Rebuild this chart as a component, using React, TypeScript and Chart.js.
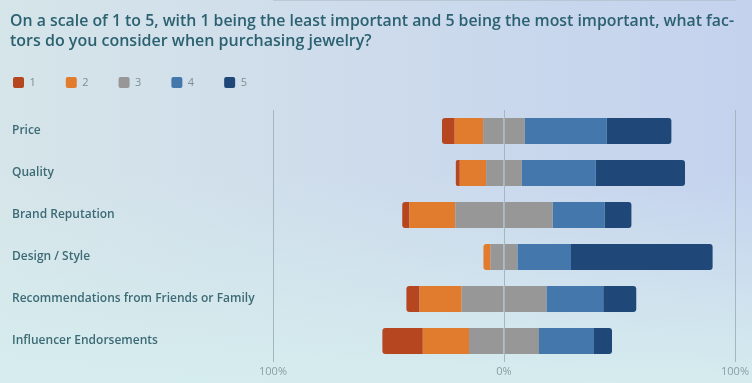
import React, { useEffect, useRef } from 'react';
import { Chart, registerables } from 'chart.js';

Chart.register(...registerables);

// ---- data ----
const titleLines = [
  'On a scale of 1 to 5, with 1 being the least important and 5 being the most important, what fac-',
  'tors do you consider when purchasing jewelry?',
];
const categories = [
  'Price',
  'Quality',
  'Brand Reputation',
  'Design / Style',
  'Recommendations from Friends or Family',
  'Influencer Endorsements',
];
const ratingLabels = ['1', '2', '3', '4', '5'];
// share of respondents (%) per rating
const rating1 = [5.5, 1.7, 3.0, 0, 5.7, 17.5];
const rating2 = [12.3, 11.4, 20.0, 3.1, 18.2, 20.0];
const rating3 = [18.1, 15.5, 42.1, 11.6, 36.7, 30.3];
const rating4 = [35.3, 32.0, 22.6, 23.2, 24.6, 23.8];
const rating5 = [28.1, 38.6, 11.5, 61.3, 14.3, 7.8];
const axisTicks = [-100, 0, 100];

// ---- styles ----
const colors = ['#b5461f', '#e17c2f', '#979797', '#4477ab', '#1f4878'];
const FONT = "'Open Sans', 'Noto Sans', sans-serif";
const LEGEND_DX = -29;
const LEGEND_DY = -12;
const TITLE_DX = -2;

export default function App() {
  const ref = useRef<HTMLCanvasElement>(null);

  useEffect(() => {
    document.body.style.margin = '0';
    const canvas = ref.current;
    if (!canvas) return;

    const neg = (arr: number[]) => arr.map((v) => -v);
    const half = (arr: number[]) => arr.map((v) => v / 2);

    const ds = (label: string, data: number[], color: string) => ({
      label,
      data,
      backgroundColor: color,
      borderWidth: 0,
      borderRadius: 3,
      barPercentage: 0.62,
      categoryPercentage: 1,
    });

    const shiftPlugin = {
      id: 'shiftBoxes',
      afterLayout(chart: any) {
        const l = chart.legend;
        if (l) {
          l.left += LEGEND_DX;
          l.right += LEGEND_DX;
          l.top += LEGEND_DY;
          l.bottom += LEGEND_DY;
        }
        const t = chart.titleBlock;
        if (t) {
          t.left += TITLE_DX;
          t.right += TITLE_DX;
        }
      },
    };

    const chart = new Chart(canvas, {
      type: 'bar',
      data: {
        labels: categories,
        datasets: [
          ds(ratingLabels[2], neg(half(rating3)), colors[2]),
          ds(ratingLabels[2], half(rating3), colors[2]),
          ds(ratingLabels[1], neg(rating2), colors[1]),
          ds(ratingLabels[3], rating4, colors[3]),
          ds(ratingLabels[0], neg(rating1), colors[0]),
          ds(ratingLabels[4], rating5, colors[4]),
        ],
      },
      options: {
        indexAxis: 'y',
        responsive: false,
        animation: false,
        devicePixelRatio: 1,
        layout: { padding: { left: 12, right: 16, top: 0, bottom: 0 } },
        plugins: {
          title: {
            display: true,
            text: titleLines,
            align: 'start',
            color: '#2b6170',
            font: { family: FONT, size: 16, weight: '600', lineHeight: 1.25 },
            padding: { top: 11, bottom: 8 },
          },
          legend: {
            display: true,
            position: 'top',
            align: 'start',
            labels: {
              boxWidth: 11,
              boxHeight: 11,
              padding: 30,
              color: '#7d8e93',
              font: { family: FONT, size: 11 },
              useBorderRadius: true,
              borderRadius: 2,
              filter: (item: any) => item.datasetIndex !== 0,
              sort: (a: any, b: any) => a.text.localeCompare(b.text),
            },
          },
          tooltip: { enabled: false },
        },
        scales: {
          x: {
            type: 'linear',
            stacked: true,
            min: axisTicks[0],
            max: axisTicks[axisTicks.length - 1],
            afterBuildTicks: (scale: any) => {
              scale.ticks = axisTicks.map((v) => ({ value: v }));
            },
            afterFit: (scale: any) => {
              scale.height = 21;
            },
            ticks: {
              color: '#8a9ea3',
              font: { family: FONT, size: 11 },
              padding: 3,
              maxRotation: 0,
              callback: (v: any) => Math.abs(Number(v)) + '%',
            },
            grid: { color: '#a3b8bd', drawTicks: false, z: 1 },
            border: { display: true, color: '#a3b8bd' },
          },
          y: {
            stacked: true,
            afterFit: (scale: any) => {
              scale.width = 261;
            },
            ticks: {
              crossAlign: 'far',
              color: '#3d6a75',
              font: { family: FONT, size: 12, weight: '600' },
            },
            grid: { display: false },
            border: { display: false },
          },
        },
      },
      plugins: [shiftPlugin],
    } as any);

    return () => chart.destroy();
  }, []);

  return (
    <div
      style={{
        position: 'absolute',
        left: 0,
        top: 0,
        width: 752,
        height: 383,
        overflow: 'hidden',
        background:
          'linear-gradient(to top, rgba(214,237,238,0.95) 0%, rgba(214,237,238,0) 55%), linear-gradient(to right, #d6e5e9 0%, #ccdaec 55%, #c4d2ee 100%)',
      }}
    >
      <canvas ref={ref} width={752} height={383} style={{ display: 'block' }} />
    </div>
  );
}
